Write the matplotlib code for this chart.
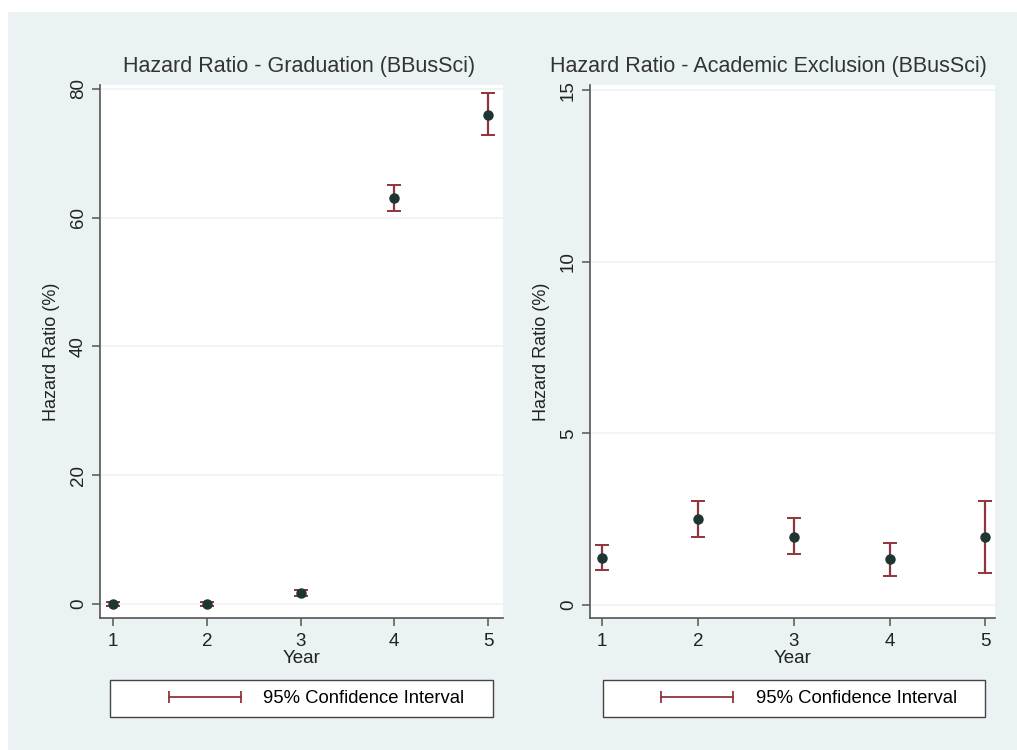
import numpy as np
import matplotlib.pyplot as plt
from matplotlib.lines import Line2D
from matplotlib.patches import Rectangle

plt.rcParams['font.family'] = ['Liberation Sans', 'DejaVu Sans']

years = [1, 2, 3, 4, 5]

# graduation hazard (%), point estimate and 95% CI
grad_hr = [0.0, 0.0, 1.7, 63.0, 76.0]
grad_lo = [-0.3, -0.3, 1.2, 61.0, 72.8]
grad_hi = [0.3, 0.3, 2.2, 65.0, 79.3]

# academic exclusion hazard (%)
excl_hr = [1.38, 2.5, 1.97, 1.35, 1.97]
excl_lo = [1.02, 1.98, 1.48, 0.85, 0.92]
excl_hi = [1.75, 3.04, 2.52, 1.81, 3.04]

titles = ['Hazard Ratio - Graduation (BBusSci)',
          'Hazard Ratio - Academic Exclusion (BBusSci)']
yticks_list = [[0, 20, 40, 60, 80], [0, 5, 10, 15]]
ylims = [(-2.2, 80.6), (-0.38, 15.15)]

bg = '#eaf2f3'
dot = '#1e3632'
maroon = '#90353b'
axcol = '#555555'

fig = plt.figure(figsize=(10.17, 7.5), dpi=100, facecolor='white')
fig.patches.append(Rectangle((8 / 1017, 0), 1 - 8 / 1017, 1 - 12 / 750,
                             transform=fig.transFigure, facecolor=bg,
                             edgecolor='none', zorder=-10))

positions = [[100 / 1017, 0.176, 403 / 1017, 0.7107],
             [590 / 1017, 0.176, 405 / 1017, 0.7107]]
xlims = [(0.86, 5.16), (0.875, 5.1)]
title_x = [0.495, 0.44]
legend_boxes = [(110, 493), (603, 985)]

data = [(grad_hr, grad_lo, grad_hi), (excl_hr, excl_lo, excl_hi)]

for i in range(2):
    ax = fig.add_axes(positions[i])
    hr, lo, hi = [np.array(v) for v in data[i]]
    ax.set_facecolor('white')
    for t in yticks_list[i]:
        ax.axhline(t, color='#eef3f3', lw=1.2, zorder=0)
    ax.errorbar(years, hr, yerr=[hr - lo, hi - hr], fmt='none',
                ecolor=maroon, elinewidth=1.6, capsize=5, capthick=1.4, zorder=2)
    ax.plot(years, hr, 'o', color=dot, markersize=6.5, zorder=3)
    ax.set_xlim(*xlims[i])
    ax.set_ylim(*ylims[i])
    ax.set_xticks(years)
    ax.set_yticks(yticks_list[i])
    ax.set_yticklabels([str(t) for t in yticks_list[i]], rotation=90, va='center')
    for s in ['top', 'right']:
        ax.spines[s].set_visible(False)
    for s in ['left', 'bottom']:
        ax.spines[s].set_color(axcol)
        ax.spines[s].set_linewidth(1.2)
    ax.tick_params(axis='both', colors=axcol, labelcolor='#222222',
                   labelsize=13.5, length=6, width=1.1)
    ax.tick_params(axis='x', pad=5)
    ax.set_xlabel('Year', fontsize=13.5, color='#222222', labelpad=0)
    ax.set_ylabel('Hazard Ratio (%)', fontsize=13, color='#222222', labelpad=7)
    ax.set_title(titles[i], fontsize=15.5, color='#333333', pad=9, x=title_x[i])

    # legend box
    x0, x1 = legend_boxes[i]
    fig.patches.append(Rectangle((x0 / 1017, 1 - 717 / 750), (x1 - x0) / 1017, 37 / 750,
                                 transform=fig.transFigure, facecolor='white',
                                 edgecolor='#444444', lw=1.0, zorder=1))
    h = Line2D([], [], color=maroon, lw=1.3, marker='|', markersize=8,
               markeredgewidth=1.3)
    fig.legend([h], ['95% Confidence Interval'], loc='center',
               bbox_to_anchor=((x0 + x1) / 2 / 1017 + 0.012, 1 - 698.5 / 750),
               frameon=False, numpoints=2, handlelength=4.5, handletextpad=0.9,
               fontsize=13.3)

plt.savefig('out.png', dpi=100, facecolor=fig.get_facecolor())
